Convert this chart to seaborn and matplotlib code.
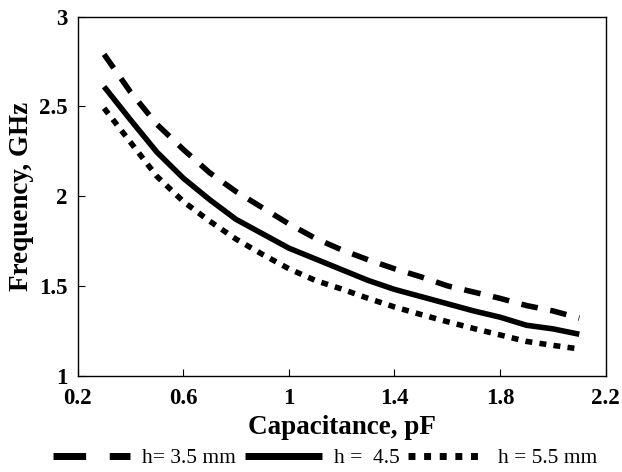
import numpy as np
import pandas as pd
import matplotlib
matplotlib.use("Agg")
import matplotlib.pyplot as plt
from matplotlib.lines import Line2D
from matplotlib.ticker import FormatStrFormatter
import seaborn as sns

capacitance = [0.3, 0.4, 0.5, 0.6, 0.7, 0.8, 0.9, 1.0, 1.1, 1.2, 1.3, 1.4,
               1.5, 1.6, 1.7, 1.8, 1.9, 2.0, 2.1]
freq_h35 = [2.79, 2.58, 2.40, 2.26, 2.13, 2.025, 1.935, 1.845, 1.765, 1.70,
            1.645, 1.595, 1.55, 1.50, 1.465, 1.43, 1.39, 1.36, 1.32]
freq_h45 = [2.61, 2.425, 2.245, 2.10, 1.98, 1.87, 1.79, 1.71, 1.65, 1.59,
            1.53, 1.48, 1.44, 1.40, 1.36, 1.325, 1.28, 1.26, 1.23]
freq_h55 = [2.49, 2.30, 2.11, 1.97, 1.86, 1.76, 1.675, 1.595, 1.53, 1.482,
            1.43, 1.382, 1.34, 1.30, 1.262, 1.226, 1.19, 1.168, 1.148]
labels = ["h= 3.5 mm", "h =  4.5", "h = 5.5 mm"]
x_ticks = [0.2, 0.6, 1.0, 1.4, 1.8, 2.2]
y_ticks = [1, 1.5, 2, 2.5, 3]

df = pd.DataFrame({
    "C": capacitance * 3,
    "f": freq_h35 + freq_h45 + freq_h55,
    "h": [labels[0]] * len(capacitance) + [labels[1]] * len(capacitance) + [labels[2]] * len(capacitance),
})

sns.set_style("ticks")
plt.rcParams["font.family"] = ["Liberation Serif", "DejaVu Serif"]
plt.rcParams["text.color"] = "black"
plt.rcParams["axes.labelcolor"] = "black"
plt.rcParams["xtick.color"] = "black"
plt.rcParams["ytick.color"] = "black"

fig = plt.figure(figsize=(6.22, 4.72), dpi=100)
ax = fig.add_axes([77.7 / 622, 1 - 375.5 / 472, (605.7 - 77.7) / 622, (375.5 - 16.7) / 472])

dash_map = {labels[0]: (3.0, 2.3), labels[1]: "", labels[2]: (1.25, 1.3)}
sns.lineplot(data=df, x="C", y="f", style="h", dashes=dash_map, color="black",
             linewidth=4.0, ax=ax, legend=False, sort=False)
for ln in ax.get_lines():
    ln.set_dash_capstyle("butt")
    ln.set_solid_capstyle("butt")

ax.set_xlim(0.2, 2.2)
ax.set_ylim(1, 3)
ax.set_xticks(x_ticks)
ax.set_yticks(y_ticks)
ax.xaxis.set_major_formatter(FormatStrFormatter("%g"))
ax.yaxis.set_major_formatter(FormatStrFormatter("%g"))
ax.tick_params(axis="both", direction="in", length=5, width=0.8, colors="black",
               labelcolor="black", labelsize=16.5, top=False, right=False)
ax.tick_params(axis="x", pad=9)
ax.tick_params(axis="y", pad=7)
for lab in ax.get_xticklabels() + ax.get_yticklabels():
    lab.set_fontweight("bold")
for sp in ax.spines.values():
    sp.set_visible(True)
    sp.set_color("black")
    sp.set_linewidth(1.0)

ax.set_xlabel("Capacitance, pF", fontsize=19.5, fontweight="bold", labelpad=4, color="black")
ax.set_ylabel("Frequency, GHz", fontsize=19.5, fontweight="bold", labelpad=4, color="black")

handles = [
    Line2D([], [], color="black", linewidth=5, linestyle=(0, (4.7, 3.4)), dash_capstyle="butt"),
    Line2D([], [], color="black", linewidth=5, linestyle="-", solid_capstyle="butt"),
    Line2D([], [], color="black", linewidth=5, linestyle=(0, (1.0, 1.25)), dash_capstyle="butt"),
]
leg = fig.legend(handles=handles, labels=labels, loc="center", ncol=3,
                 bbox_to_anchor=(325 / 622, 1 - 458 / 472), frameon=False,
                 fontsize=15.5, handlelength=3.6, handletextpad=0.55, columnspacing=0.4,
                 borderaxespad=0, borderpad=0)
for t in leg.get_texts():
    t.set_color("black")

fig.savefig("out.png", dpi=100)
